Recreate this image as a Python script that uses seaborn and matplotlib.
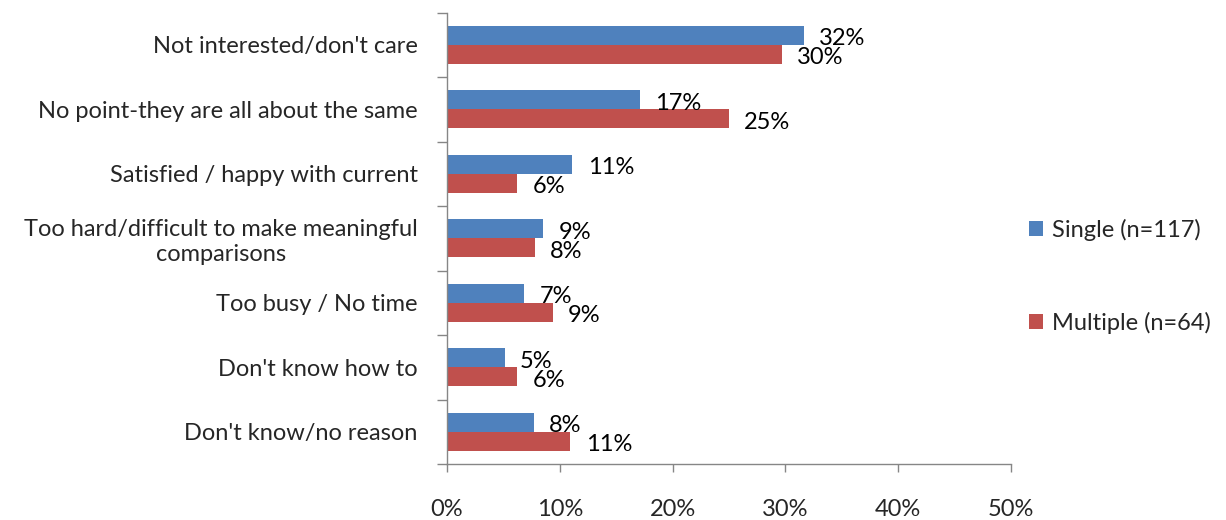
import pandas as pd
import numpy as np
import seaborn as sns
import matplotlib.pyplot as plt

reasons = ["Not interested/don't care",
           "No point-they are all about the same",
           "Satisfied / happy with current",
           "Too hard/difficult to make meaningful\ncomparisons",
           "Too busy / No time",
           "Don't know how to",
           "Don't know/no reason"]
single = [31.62, 17.09, 11.11, 8.55, 6.84, 5.13, 7.69]   # n=117
multiple = [29.69, 25.00, 6.25, 7.81, 9.38, 6.25, 10.94]  # n=64
series_names = ['Single (n=117)', 'Multiple (n=64)']
x_ticks = [0, 10, 20, 30, 40, 50]

df = pd.DataFrame({'Reason': reasons * 2,
                   'Pct': single + multiple,
                   'Group': [series_names[0]] * len(reasons) + [series_names[1]] * len(reasons)})

sns.set_style('white')
plt.rcParams['font.family'] = ['Lato', 'DejaVu Sans']
fs = 17

fig = plt.figure(figsize=(12.26, 5.2), dpi=100)
ax = fig.add_axes([0.3646, 0.1077, 0.46, 0.8679])

sns.barplot(data=df, y='Reason', x='Pct', hue='Group', hue_order=series_names,
            palette=['#4F81BD', '#C0504D'], orient='h', width=0.59,
            saturation=1, linewidth=0, ax=ax, legend=True)

# value labels, nudged a little below the bar centre like the excel original
for cont in ax.containers:
    anns = ax.bar_label(cont, labels=[f'{v:.0f}%' for v in cont.datavalues],
                        padding=11, fontsize=fs, color='black')
    for a in anns:
        a.xyann = (11, -2.5)

ax.set_xlim(0, 50)
ax.set_ylim(len(reasons) - 0.5, -0.5)
ax.set_xticks(x_ticks)
ax.set_xticklabels([f'{t}%' for t in x_ticks], fontsize=fs)
ax.tick_params(axis='x', bottom=True, length=6, width=1, color='#868686', pad=19, direction='out')
ax.tick_params(axis='y', which='major', left=True, length=0, pad=21, labelsize=fs)
ax.set_yticks(np.arange(len(reasons) + 1) - 0.5, minor=True)
ax.tick_params(axis='y', which='minor', left=True, length=7, width=1, color='#868686', direction='out')
for lab in ax.get_yticklabels():
    lab.set_multialignment('center')
ax.set_xlabel('')
ax.set_ylabel('')
for s in ['top', 'right']:
    ax.spines[s].set_visible(False)
for s in ['left', 'bottom']:
    ax.spines[s].set_color('#868686')
    ax.spines[s].set_linewidth(1)

ax.legend(loc='center left', bbox_to_anchor=(0.826, 0.468), bbox_transform=fig.transFigure,
          frameon=False, fontsize=fs, handlelength=0.6, handleheight=0.6,
          handletextpad=0.35, labelspacing=3.0, borderpad=0.2)

plt.savefig('out.png', dpi=100)
